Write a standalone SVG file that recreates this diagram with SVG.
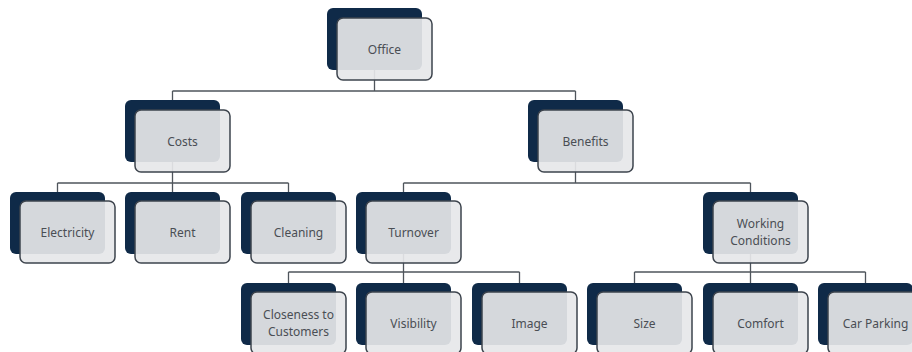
<svg xmlns="http://www.w3.org/2000/svg" width="912" height="352" viewBox="0 0 912 352">
<style>
.bg{fill:#ffffff}
.dk{fill:#0f2a48}
.fr{fill:#e6e7e9;fill-opacity:0.92;stroke:#3d444d;stroke-width:1.5}
.tx{font-family:"Noto Sans","Liberation Sans",sans-serif;font-size:12px;fill:#4a4e54;text-anchor:middle;dominant-baseline:central}
.cn{fill:none;stroke:#4f555c;stroke-width:1.3}
</style>
<rect class="bg" x="0" y="0" width="912" height="352"/>
<g id="connectors" class="cn">
<path d="M374.5 49 V91 M172.5 91 H575.5 M172.5 91 V100 M575.5 91 V100"/>
<path d="M172.5 141 V192 M57.5 183 H288.5 M57.5 183 V192 M288.5 183 V192"/>
<path d="M575.5 141 V183 M403.5 183 H750.5 M403.5 183 V192 M750.5 183 V192"/>
<path d="M403.5 232 V283 M288.5 272 H519.5 M288.5 272 V283 M519.5 272 V283"/>
<path d="M750.5 232 V283 M634.5 272 H865.5 M634.5 272 V283 M865.5 272 V283"/>
</g>
<g id="office">
<rect class="dk" x="327" y="8" width="95" height="62" rx="6"/>
<rect class="fr" x="337" y="18" width="95" height="62" rx="6"/>
<text class="tx" x="384.5" y="49">Office</text>
</g>
<g id="costs">
<rect class="dk" x="125" y="100" width="95" height="62" rx="6"/>
<rect class="fr" x="135" y="110" width="95" height="62" rx="6"/>
<text class="tx" x="182.5" y="141">Costs</text>
</g>
<g id="benefits">
<rect class="dk" x="528" y="100" width="95" height="62" rx="6"/>
<rect class="fr" x="538" y="110" width="95" height="62" rx="6"/>
<text class="tx" x="585.5" y="141">Benefits</text>
</g>
<g id="electricity">
<rect class="dk" x="10" y="192" width="95" height="62" rx="6"/>
<rect class="fr" x="20" y="201" width="95" height="62" rx="6"/>
<text class="tx" x="67.5" y="232">Electricity</text>
</g>
<g id="rent">
<rect class="dk" x="125" y="192" width="95" height="62" rx="6"/>
<rect class="fr" x="135" y="201" width="95" height="62" rx="6"/>
<text class="tx" x="182.5" y="232">Rent</text>
</g>
<g id="cleaning">
<rect class="dk" x="241" y="192" width="95" height="62" rx="6"/>
<rect class="fr" x="251" y="201" width="95" height="62" rx="6"/>
<text class="tx" x="298.5" y="232">Cleaning</text>
</g>
<g id="turnover">
<rect class="dk" x="356" y="192" width="95" height="62" rx="6"/>
<rect class="fr" x="366" y="201" width="95" height="62" rx="6"/>
<text class="tx" x="413.5" y="232">Turnover</text>
</g>
<g id="working-conditions">
<rect class="dk" x="703" y="192" width="95" height="62" rx="6"/>
<rect class="fr" x="713" y="201" width="95" height="62" rx="6"/>
<text class="tx" x="760.5" y="223.5">Working</text>
<text class="tx" x="760.5" y="240.5">Conditions</text>
</g>
<g id="closeness">
<rect class="dk" x="241" y="283" width="95" height="62" rx="6"/>
<rect class="fr" x="251" y="292" width="95" height="62" rx="6"/>
<text class="tx" x="298.5" y="314.5">Closeness to</text>
<text class="tx" x="298.5" y="331.5">Customers</text>
</g>
<g id="visibility">
<rect class="dk" x="356" y="283" width="95" height="62" rx="6"/>
<rect class="fr" x="366" y="292" width="95" height="62" rx="6"/>
<text class="tx" x="413.5" y="323">Visibility</text>
</g>
<g id="image">
<rect class="dk" x="472" y="283" width="95" height="62" rx="6"/>
<rect class="fr" x="482" y="292" width="95" height="62" rx="6"/>
<text class="tx" x="529.5" y="323">Image</text>
</g>
<g id="size">
<rect class="dk" x="587" y="283" width="95" height="62" rx="6"/>
<rect class="fr" x="597" y="292" width="95" height="62" rx="6"/>
<text class="tx" x="644.5" y="323">Size</text>
</g>
<g id="comfort">
<rect class="dk" x="703" y="283" width="95" height="62" rx="6"/>
<rect class="fr" x="713" y="292" width="95" height="62" rx="6"/>
<text class="tx" x="760.5" y="323">Comfort</text>
</g>
<g id="car-parking">
<rect class="dk" x="818" y="283" width="95" height="62" rx="6"/>
<rect class="fr" x="828" y="292" width="95" height="62" rx="6"/>
<text class="tx" x="875.5" y="323">Car Parking</text>
</g>
</svg>
